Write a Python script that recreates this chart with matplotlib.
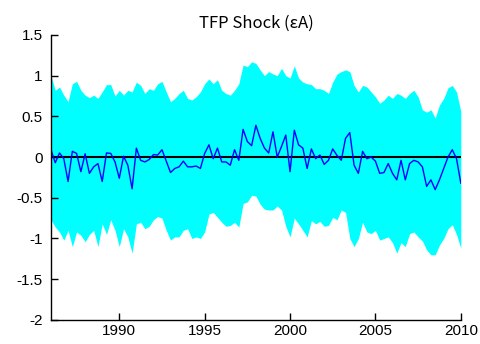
import numpy as np
import matplotlib.pyplot as plt

plt.rcParams['axes.unicode_minus'] = False

# quarterly, 1986Q1 .. 2010Q1
start_year = 1986
shock = [0.09, -0.07, 0.05, -0.02, -0.30, 0.07, 0.045, -0.18, 0.04, -0.20,
         -0.12, -0.08, -0.30, 0.05, 0.045, -0.06, -0.26, 0.01, -0.10, -0.39,
         0.11, -0.04, -0.06, -0.03, 0.03, 0.025, 0.09, -0.05, -0.19, -0.14,
         -0.12, -0.05, -0.12, -0.12, -0.11, -0.14, 0.045, 0.15, -0.02, 0.11,
         -0.06, -0.06, -0.10, 0.09, -0.04, 0.34, 0.19, 0.14, 0.39, 0.23,
         0.11, 0.05, 0.31, 0.0, 0.13, 0.27, -0.18, 0.33, 0.15, 0.11,
         -0.14, 0.10, -0.02, 0.025, -0.09, -0.04, 0.10, 0.02, -0.04, 0.23,
         0.30, -0.10, -0.20, 0.07, -0.02, 0.0, -0.05, -0.20, -0.19, -0.08,
         -0.20, -0.28, -0.04, -0.28, -0.08, -0.04, -0.06, -0.12, -0.36, -0.28,
         -0.40, -0.28, -0.14, 0.0, 0.09, -0.02, -0.32]
upper = [1.0, 0.82, 0.86, 0.76, 0.68, 0.9, 0.93, 0.82, 0.76, 0.73,
         0.76, 0.72, 0.8, 0.89, 0.89, 0.75, 0.82, 0.76, 0.82, 0.8,
         0.92, 0.88, 0.78, 0.84, 0.82, 0.9, 0.93, 0.8, 0.68, 0.72,
         0.78, 0.82, 0.72, 0.7, 0.74, 0.8, 0.9, 0.96, 0.9, 0.95,
         0.82, 0.78, 0.76, 0.82, 0.9, 1.13, 1.11, 1.17, 1.15, 1.07,
         1.0, 1.05, 1.02, 1.0, 1.09, 1.0, 0.97, 1.12, 0.97, 0.92,
         0.9, 0.89, 0.84, 0.84, 0.82, 0.78, 0.92, 1.02, 1.05, 1.07,
         1.05, 0.88, 0.8, 0.88, 0.86, 0.8, 0.74, 0.66, 0.7, 0.76,
         0.72, 0.78, 0.76, 0.72, 0.78, 0.82, 0.74, 0.58, 0.55, 0.58,
         0.48, 0.64, 0.72, 0.85, 0.88, 0.8, 0.56]
lower = [-0.77, -0.86, -0.92, -1.02, -0.9, -1.1, -0.92, -0.96, -1.04, -0.95,
         -0.9, -1.1, -0.82, -0.95, -0.77, -0.9, -1.1, -0.88, -0.98, -1.18,
         -0.82, -0.8, -0.88, -0.85, -0.77, -0.73, -0.75, -0.9, -1.02, -0.98,
         -0.98, -0.9, -0.88, -1.0, -0.98, -1.0, -0.92, -0.7, -0.68, -0.74,
         -0.8, -0.85, -0.84, -0.8, -0.86, -0.57, -0.55, -0.47, -0.48, -0.58,
         -0.64, -0.65, -0.65, -0.6, -0.65, -0.85, -0.98, -0.75, -0.82, -0.9,
         -0.98, -0.78, -0.82, -0.79, -0.85, -0.84, -0.74, -0.77, -0.65, -0.68,
         -1.0, -1.1, -1.0, -0.8, -0.92, -0.94, -0.9, -1.02, -1.0, -0.98,
         -1.05, -1.18, -1.05, -1.1, -0.94, -0.92, -0.98, -1.03, -1.14, -1.2,
         -1.2, -1.08, -1.0, -0.88, -0.83, -0.95, -1.12]
years = start_year + np.arange(len(shock)) / 4

fig = plt.figure(figsize=(4.81, 3.44), dpi=100)
ax = fig.add_axes([0.106, 0.07, 0.852, 0.8285])

ax.fill_between(years, lower, upper, color='cyan', linewidth=0)
ax.axhline(0, color='black', linewidth=1.5)
ax.plot(years, shock, color='blue', linewidth=1.0)

ax.set_xlim(1986, 2010)
ax.set_ylim(-2, 1.5)
ax.set_xticks([1990, 1995, 2000, 2005, 2010])
ax.set_yticks([-2, -1.5, -1, -0.5, 0, 0.5, 1, 1.5])
ax.set_yticklabels(['-2', '-1.5', '-1', '-0.5', '0', '0.5', '1', '1.5'])

for s in ['top', 'right']:
    ax.spines[s].set_visible(False)
for s in ['left', 'bottom']:
    ax.spines[s].set_linewidth(1.0)

ax.tick_params(direction='in', length=5, width=1)
ax.tick_params(axis='x', pad=3)
ax.tick_params(axis='y', pad=6)
for lab in ax.get_xticklabels() + ax.get_yticklabels():
    lab.set_family(['Liberation Sans', 'DejaVu Sans'])
    lab.set_fontsize(11)

ax.set_title('TFP Shock (εA)', family=['Noto Sans CJK JP', 'DejaVu Sans'],
             fontsize=12, pad=5)

fig.savefig('out.png', dpi=100)
